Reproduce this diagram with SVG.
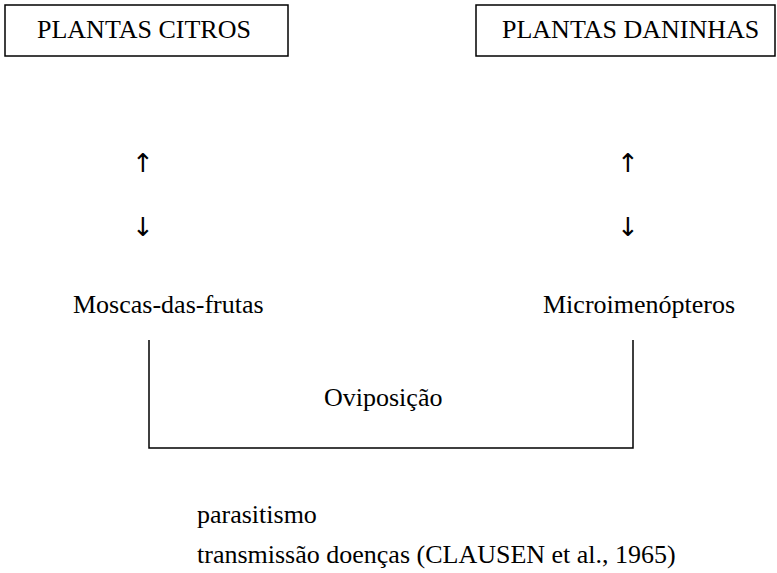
<svg xmlns="http://www.w3.org/2000/svg" width="777" height="573" viewBox="0 0 777 573">
<style>
.t{font-family:'Liberation Serif','Times New Roman',Times,'DejaVu Serif',serif;font-size:26px;fill:#000}
.ar{font-family:'DejaVu Sans','Liberation Serif',sans-serif;font-size:26px;fill:#000}
.box{fill:#fff;stroke:#000;stroke-width:1.5}
.conn{fill:none;stroke:#000;stroke-width:1.5}
</style>
<rect width="777" height="573" fill="#fff"/>
<g id="citros">
<rect class="box" x="5" y="5" width="283" height="51"/>
<text class="t" x="37" y="38">PLANTAS CITROS</text>
</g>
<g id="daninhas">
<rect class="box" x="476" y="5" width="299" height="51"/>
<text class="t" x="502" y="38">PLANTAS DANINHAS</text>
</g>
<g id="arrows-left">
<text class="ar" x="143" y="172" text-anchor="middle">↑</text>
<text class="ar" x="143" y="236" text-anchor="middle">↓</text>
</g>
<g id="arrows-right">
<text class="ar" x="628" y="172" text-anchor="middle">↑</text>
<text class="ar" x="628" y="236" text-anchor="middle">↓</text>
</g>
<g id="moscas">
<text class="t" x="73" y="313">Moscas-das-frutas</text>
</g>
<g id="micro">
<text class="t" x="543" y="313">Microimenópteros</text>
</g>
<g id="connectors">
<path class="conn" d="M149,340 V448 H633 V340"/>
</g>
<g id="oviposicao">
<text class="t" x="324" y="406">Oviposição</text>
</g>
<g id="notes">
<text class="t" x="197" y="523">parasitismo</text>
<text class="t" x="197" y="563">transmissão doenças (CLAUSEN et al., 1965)</text>
</g>
</svg>
